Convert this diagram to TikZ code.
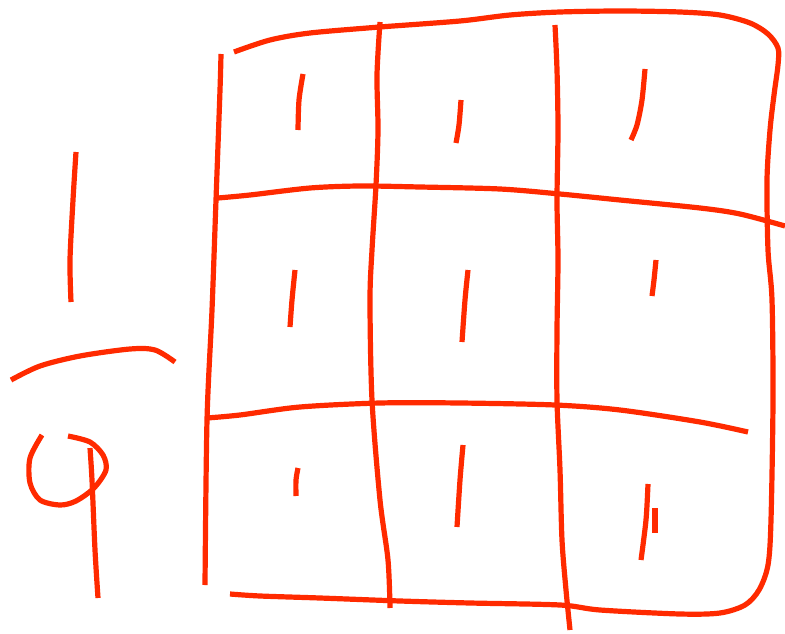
\documentclass[tikz,border=0pt]{standalone}
\definecolor{inkred}{HTML}{FF2A00}
\begin{document}
\begin{tikzpicture}[x=1pt,y=-1pt,
  ink/.style={draw=inkred,line width=5.2pt,line cap=butt,line join=round}]
\useasboundingbox (0,0) rectangle (785,634);
% fraction 1/9
\draw[ink] plot[smooth] coordinates {(76,152) (73,200) (70,260) (71,302)};
\draw[ink] plot[smooth] coordinates {(11,380) (40,366) (80,356) (130,349) (155,350) (175,362)};
\draw[ink] plot[smooth] coordinates {(42,435) (30,458) (30,483) (40,500) (60,505) (76,501) (94,488) (106,470) (103,455) (90,442) (68,436)};
\draw[ink] plot[smooth] coordinates {(90,448) (92,480) (95,550) (98,598)};
% grid outline
\draw[ink] plot[smooth] coordinates {(221,54) (220,90) (216,200) (212,310) (207,420) (205,585)};
\draw[ink] plot[smooth] coordinates {(234,52) (270,40) (310,33) (380,27) (460,21) (510,15) (560,12) (620,11) (680,12) (720,15) (750,23) (768,34) (778,48) (778,65) (774,95) (770,130) (767,180) (768,250) (772,300) (773,400) (771,520) (768,565) (759,590) (745,605) (720,613) (680,614) (600,610) (560,605) (470,603) (400,601) (320,598) (260,596) (230,594)};
% column lines
\draw[ink] plot[smooth] coordinates {(380,22) (377,75) (378,130) (376,185) (372,250) (370,300) (372,400) (380,500) (388,560) (390,608)};
\draw[ink] plot[smooth] coordinates {(555,25) (557,70) (558,130) (557,200) (558,260) (557,330) (557,400) (560,470) (562,540) (566,590) (570,630)};
% row lines
\draw[ink] plot[smooth] coordinates {(218,198) (250,195) (310,188) (360,186) (420,187) (500,189) (560,194) (620,200) (700,208) (740,214) (785,226)};
\draw[ink] plot[smooth] coordinates {(207,418) (240,415) (300,407) (380,403) (460,403) (555,405) (620,410) (700,422) (748,432)};
% tally marks
\draw[ink] plot[smooth] coordinates {(303,74) (299,100) (298,130)};
\draw[ink] plot[smooth] coordinates {(461,100) (459,125) (456,143)};
\draw[ink] plot[smooth] coordinates {(645,69) (642,100) (637,125) (631,140)};
\draw[ink] plot[smooth] coordinates {(295,270) (292,300) (290,327)};
\draw[ink] plot[smooth] coordinates {(468,270) (465,300) (462,342)};
\draw[ink] plot[smooth] coordinates {(656,260) (654,280) (652,296)};
\draw[ink] plot[smooth] coordinates {(298,468) (296,480) (296,496)};
\draw[ink] plot[smooth] coordinates {(463,445) (460,480) (457,527)};
\draw[ink] plot[smooth] coordinates {(648,484) (646,520) (641,560)};
\draw[ink] (655,508) -- (655,533);
\end{tikzpicture}
\end{document}
